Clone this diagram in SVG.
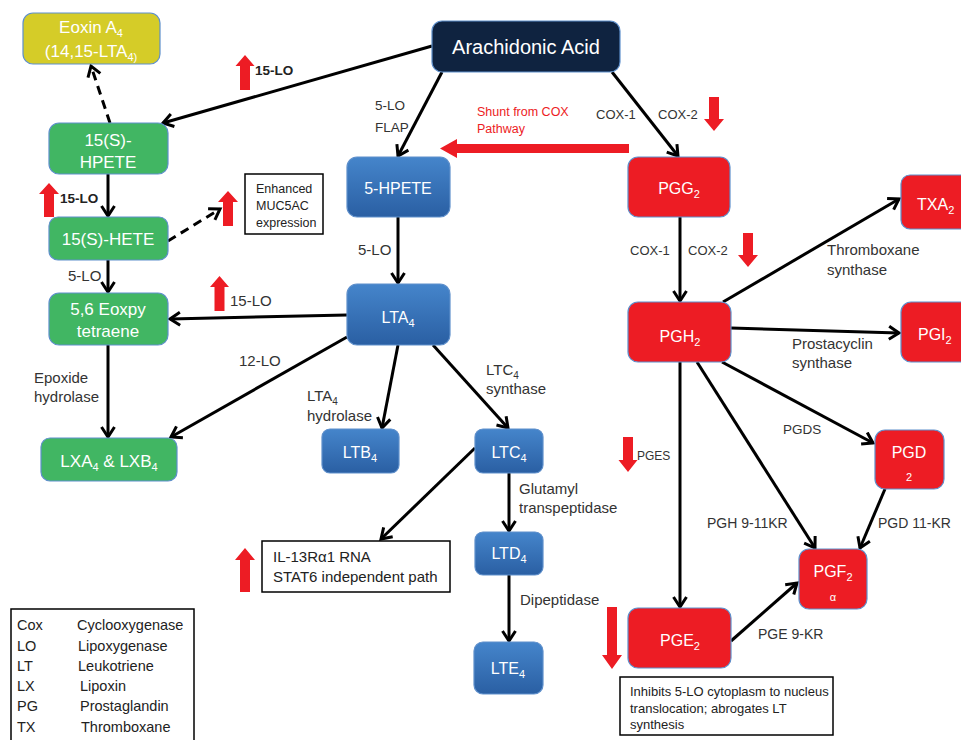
<svg xmlns="http://www.w3.org/2000/svg" width="961" height="740" viewBox="0 0 961 740">
<style>
.node rect{stroke:#5E8FCB;stroke-width:1.2}
.green{fill:#41B663}
.yellow{fill:#D5CC28}
.navy{fill:#0F2340}
.red{fill:#ED1C24}
.blue{fill:url(#gBlue)}
.nt{font-family:"Liberation Sans",Arial,sans-serif;font-size:16px;fill:#fff;text-anchor:middle}
.lbl{font-family:"Liberation Sans",Arial,sans-serif;font-size:15px;fill:#333}
.cap{font-size:13.5px}
.bold{font-weight:bold;font-size:13.5px;fill:#222}
.note{font-family:"Liberation Sans",Arial,sans-serif;fill:#222}
.box{fill:#fff;stroke:#000;stroke-width:1.5}
.con{stroke:#000;stroke-width:3;fill:none;marker-end:url(#arr)}
.dash{stroke-dasharray:9,6}
.ra{fill:#ED1C24}
</style>
<defs>
<linearGradient id="gBlue" x1="0" y1="0" x2="0" y2="1">
<stop offset="0" stop-color="#4585CB"/>
<stop offset="1" stop-color="#2A5FA3"/>
</linearGradient>
<marker id="arr" viewBox="0 0 16 16" markerWidth="16" markerHeight="16" refX="13" refY="8" orient="auto" markerUnits="userSpaceOnUse">
<path d="M3,1.5 L13,8 L3,14.5" fill="none" stroke="#000" stroke-width="3"/>
</marker>
</defs>

<g id="connectors">
<line class="con" x1="432" y1="46" x2="163" y2="123"/>
<line class="con dash" x1="110" y1="123" x2="91" y2="66"/>
<line class="con" x1="108" y1="174" x2="108" y2="216"/>
<line class="con dash" x1="168" y1="241" x2="220" y2="209"/>
<line class="con" x1="108" y1="260" x2="108" y2="292"/>
<line class="con" x1="347" y1="315" x2="170" y2="319"/>
<line class="con" x1="347" y1="337" x2="171" y2="437"/>
<line class="con" x1="108" y1="345" x2="108" y2="437"/>
<line class="con" x1="442" y1="72" x2="398" y2="156"/>
<line class="con" x1="398" y1="217" x2="398" y2="283"/>
<line class="con" x1="398" y1="345" x2="382" y2="428"/>
<line class="con" x1="433" y1="345" x2="508" y2="428"/>
<line class="con" x1="475" y1="448" x2="381" y2="539"/>
<line class="con" x1="509" y1="473" x2="509" y2="531"/>
<line class="con" x1="509" y1="575" x2="509" y2="641"/>
<line class="con" x1="612" y1="72" x2="678" y2="156"/>
<line class="con" x1="680" y1="217" x2="680" y2="301"/>
<line class="con" x1="723" y1="302" x2="899" y2="199"/>
<line class="con" x1="731" y1="328" x2="899" y2="333"/>
<line class="con" x1="722" y1="362" x2="873" y2="443"/>
<line class="con" x1="697" y1="362" x2="815" y2="548"/>
<line class="con" x1="885" y1="489" x2="860" y2="548"/>
<line class="con" x1="680" y1="362" x2="680" y2="607"/>
<line class="con" x1="731" y1="641" x2="797" y2="583"/>
</g>

<g id="red-indicators">
<polygon class="ra" points="245,55 254.5,66 250,66 250,90 240,90 240,66 235.5,66"/>
<polygon class="ra" points="49,183 59,194 54,194 54,217 44,217 44,194 39,194"/>
<polygon class="ra" points="228,191 238,202 233,202 233,226 223,226 223,202 218,202"/>
<polygon class="ra" points="219.5,276 229,287 224.5,287 224.5,311 214.5,311 214.5,287 210,287"/>
<polygon class="ra" points="245,548 255,560 250,560 250,592 240,592 240,560 235,560"/>
<polygon class="ra" points="714,131 724,119 719,119 719,97 709,97 709,119 704,119"/>
<polygon class="ra" points="748,267 758,255 753,255 753,233 743,233 743,255 738,255"/>
<polygon class="ra" points="628,472 637.5,460 633,460 633,437 623,437 623,460 618.5,460"/>
<polygon class="ra" points="612,669 622,655 617,655 617,607 607,607 607,655 602,655"/>
<polygon class="ra" points="440,148.5 457,139 457,144 629,144 629,153 457,153 457,158"/>
</g>

<g id="eoxin" class="node"><rect class="yellow" x="23" y="13" width="137" height="51" rx="10"/>
<text class="nt" style="font-size:17px" x="91" y="33">Eoxin A<tspan font-size="11" dy="4">4</tspan></text>
<text class="nt" style="font-size:17px" x="91" y="57">(14,15-LTA<tspan font-size="11" dy="4">4)</tspan></text></g>

<g id="hpete15" class="node"><rect class="green" x="49" y="123" width="119" height="51" rx="10"/>
<text class="nt" style="font-size:17px" x="108" y="146">15(S)-</text>
<text class="nt" style="font-size:17px" x="108" y="168">HPETE</text></g>

<g id="hete15" class="node"><rect class="green" x="49" y="217" width="119" height="43" rx="9"/>
<text class="nt" style="font-size:17px" x="108" y="245">15(S)-HETE</text></g>

<g id="eoxpy" class="node"><rect class="green" x="49" y="293" width="119" height="52" rx="10"/>
<text class="nt" style="font-size:17px" x="108" y="315">5,6 Eoxpy</text>
<text class="nt" style="font-size:17px" x="108" y="337">tetraene</text></g>

<g id="lx" class="node"><rect class="green" x="41" y="438" width="136" height="43" rx="9"/>
<text class="nt" style="font-size:17px" x="109" y="467">LXA<tspan font-size="11" dy="4">4</tspan><tspan dy="-4"> &amp; LXB</tspan><tspan font-size="11" dy="4">4</tspan></text></g>

<g id="aa" class="node"><rect class="navy" x="432" y="21" width="188" height="51" rx="10"/>
<text class="nt" style="font-size:20px" x="526" y="54">Arachidonic Acid</text></g>

<g id="hpete5" class="node"><rect class="blue" x="347" y="157" width="103" height="60" rx="10"/>
<text class="nt" x="398" y="194">5-HPETE</text></g>

<g id="lta4" class="node"><rect class="blue" x="347" y="284" width="103" height="61" rx="10"/>
<text class="nt" x="398" y="323">LTA<tspan font-size="11" dy="4">4</tspan></text></g>

<g id="ltb4" class="node"><rect class="blue" x="322" y="429" width="77" height="44" rx="8"/>
<text class="nt" x="360" y="458">LTB<tspan font-size="11" dy="4">4</tspan></text></g>

<g id="ltc4" class="node"><rect class="blue" x="475" y="429" width="68" height="44" rx="8"/>
<text class="nt" x="509" y="458">LTC<tspan font-size="11" dy="4">4</tspan></text></g>

<g id="ltd4" class="node"><rect class="blue" x="475" y="532" width="68" height="43" rx="8"/>
<text class="nt" x="509" y="559">LTD<tspan font-size="11" dy="4">4</tspan></text></g>

<g id="lte4" class="node"><rect class="blue" x="474" y="642" width="69" height="52" rx="9"/>
<text class="nt" x="508" y="674">LTE<tspan font-size="11" dy="4">4</tspan></text></g>

<g id="pgg2" class="node"><rect class="red" x="628" y="157" width="102" height="60" rx="10"/>
<text class="nt" x="679" y="194">PGG<tspan font-size="11" dy="4">2</tspan></text></g>

<g id="pgh2" class="node"><rect class="red" x="628" y="302" width="103" height="60" rx="10"/>
<text class="nt" x="680" y="342">PGH<tspan font-size="11" dy="4">2</tspan></text></g>

<g id="txa2" class="node"><rect class="red" x="901" y="175" width="75" height="54" rx="9"/>
<text class="nt" style="text-anchor:start" x="917" y="210">TXA<tspan font-size="11" dy="4">2</tspan></text></g>

<g id="pgi2" class="node"><rect class="red" x="901" y="302" width="75" height="60" rx="10"/>
<text class="nt" style="text-anchor:start" x="918" y="340">PGI<tspan font-size="11" dy="4">2</tspan></text></g>

<g id="pgd2" class="node"><rect class="red" x="875" y="430" width="69" height="59" rx="10"/>
<text class="nt" x="909" y="458">PGD</text>
<text class="nt" style="font-size:11px" x="909" y="481">2</text></g>

<g id="pgf2a" class="node"><rect class="red" x="799" y="549" width="68" height="60" rx="10"/>
<text class="nt" x="833" y="577">PGF<tspan font-size="11" dy="4">2</tspan></text>
<text class="nt" style="font-size:11px" x="833" y="601">α</text></g>

<g id="pge2" class="node"><rect class="red" x="628" y="608" width="103" height="60" rx="10"/>
<text class="nt" x="680" y="646">PGE<tspan font-size="11" dy="4">2</tspan></text></g>

<g id="muc5ac"><rect class="box" x="245" y="174" width="78" height="60"/>
<text class="note" font-size="12.5" x="256" y="193">Enhanced</text>
<text class="note" font-size="12.5" x="256" y="210">MUC5AC</text>
<text class="note" font-size="12.5" x="256" y="227">expression</text></g>

<g id="il13"><rect class="box" x="262" y="541" width="188" height="51"/>
<text class="note" font-size="15" x="273" y="562">IL-13Rα1 RNA</text>
<text class="note" font-size="15" x="273" y="582">STAT6 independent path</text></g>

<g id="pge2note"><rect class="box" x="620" y="677" width="213" height="58"/>
<text class="note" font-size="13" x="630" y="696">Inhibits 5-LO cytoplasm to nucleus</text>
<text class="note" font-size="13" x="630" y="713">translocation; abrogates LT</text>
<text class="note" font-size="13" x="630" y="729">synthesis</text></g>

<g id="legend"><rect class="box" x="11" y="609" width="183" height="140"/>
<g class="note" font-size="14.5">
<text x="17" y="630">Cox</text><text x="77" y="630">Cyclooxygenase</text>
<text x="17" y="651">LO</text><text x="78" y="651">Lipoxygenase</text>
<text x="17" y="671">LT</text><text x="78" y="671">Leukotriene</text>
<text x="17" y="691">LX</text><text x="80" y="691">Lipoxin</text>
<text x="17" y="711">PG</text><text x="80" y="711">Prostaglandin</text>
<text x="17" y="732">TX</text><text x="81" y="732">Thromboxane</text>
</g></g>

<g id="labels">
<text class="lbl bold" x="255" y="75">15-LO</text>
<text class="lbl bold" x="60" y="203">15-LO</text>
<text class="lbl" x="230" y="306">15-LO</text>
<text class="lbl" x="68" y="281">5-LO</text>
<text class="lbl" x="239" y="366">12-LO</text>
<text class="lbl" x="34" y="383">Epoxide</text>
<text class="lbl" x="34" y="402">hydrolase</text>
<text class="lbl cap" x="375" y="110">5-LO</text>
<text class="lbl cap" x="375" y="132">FLAP</text>
<text class="lbl" x="477" y="116" style="font-size:12.5px;fill:#ED1C24">Shunt from COX</text>
<text class="lbl" x="477" y="133" style="font-size:12.5px;fill:#ED1C24">Pathway</text>
<text class="lbl" x="596" y="119" style="font-size:13px">COX-1</text>
<text class="lbl" x="658" y="119" style="font-size:13px">COX-2</text>
<text class="lbl" x="358" y="255">5-LO</text>
<text class="lbl" x="630" y="255" style="font-size:13px">COX-1</text>
<text class="lbl" x="688" y="255" style="font-size:13px">COX-2</text>
<text class="lbl" x="827" y="255">Thromboxane</text>
<text class="lbl" x="827" y="275">synthase</text>
<text class="lbl" x="792" y="349">Prostacyclin</text>
<text class="lbl" x="792" y="368">synthase</text>
<text class="lbl" x="307" y="401">LTA<tspan font-size="10" dy="4">4</tspan></text>
<text class="lbl" x="307" y="421">hydrolase</text>
<text class="lbl" x="486" y="375">LTC<tspan font-size="10" dy="4">4</tspan></text>
<text class="lbl" x="486" y="394">synthase</text>
<text class="lbl cap" x="783" y="434">PGDS</text>
<text class="lbl" x="637" y="460" style="font-size:12px">PGES</text>
<text class="lbl" x="707" y="528" style="font-size:14px">PGH 9-11KR</text>
<text class="lbl" x="878" y="528" style="font-size:14px">PGD 11-KR</text>
<text class="lbl" x="519" y="494">Glutamyl</text>
<text class="lbl" x="519" y="513">transpeptidase</text>
<text class="lbl" x="520" y="605">Dipeptidase</text>
<text class="lbl" x="758" y="639" style="font-size:14px">PGE 9-KR</text>
</g>
</svg>
